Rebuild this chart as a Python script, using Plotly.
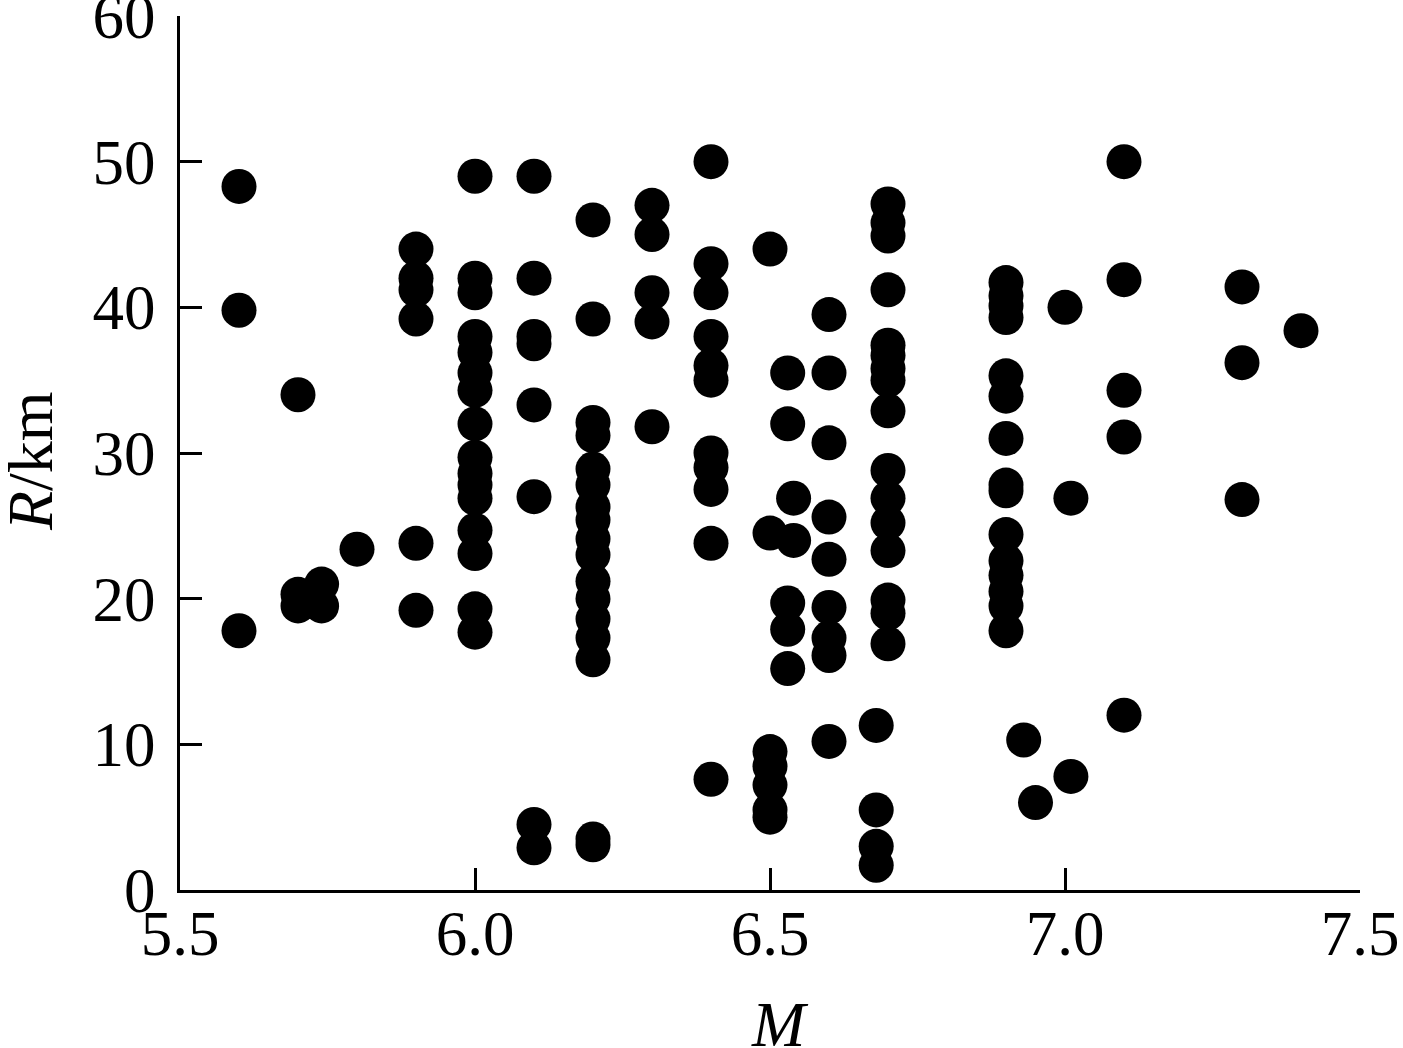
import plotly.graph_objects as go

# Magnitude M (x) for each column of points, and epicentral distance R/km (y)
m_5_6 = [48.3, 39.8, 17.8]
m_5_7 = [34.0, 20.3, 19.5]
m_5_74 = [21.0, 19.5]
m_5_8 = [23.4]
m_5_9 = [44.0, 42.0, 41.2, 39.2, 23.8, 19.2]
m_6_0 = [49.0, 42.0, 41.0, 38.0, 36.9, 35.5, 34.3, 32.0, 29.7, 28.6, 27.8, 26.9, 24.7, 23.1, 19.3, 17.7]
m_6_1 = [49.0, 42.0, 38.0, 37.5, 33.3, 27.0, 4.5, 2.9]
m_6_2 = [46.0, 39.2, 32.1, 31.2, 28.9, 27.8, 26.3, 25.4, 24.1, 23.0, 21.2, 20.0, 18.6, 17.3, 15.8, 3.5, 3.1]
m_6_3 = [47.0, 45.0, 41.0, 39.0, 31.8]
m_6_4 = [50.0, 43.0, 41.0, 38.0, 36.0, 35.0, 30.0, 29.0, 27.5, 23.8, 7.6]
m_6_5 = [44.0, 24.5, 9.5, 8.5, 7.2, 5.5, 5.0]
m_6_53 = [35.5, 32.0, 19.7, 17.9, 15.2]
m_6_54 = [26.9, 24.0]
m_6_6 = [39.5, 35.5, 30.7, 25.6, 22.7, 19.4, 17.3, 16.1, 10.2]
m_6_68 = [11.3, 5.5, 3.0, 1.7]
m_6_7 = [47.1, 45.8, 44.9, 41.2, 37.4, 36.7, 35.8, 35.0, 32.9, 28.8, 26.9, 25.2, 23.3, 19.9, 19.0, 16.9]
m_6_9 = [41.7, 40.8, 40.1, 39.3, 35.3, 33.9, 31.0, 27.8, 27.4, 24.4, 22.6, 21.6, 20.5, 19.5, 17.8]
m_6_93 = [10.3]
m_6_95 = [6.0]
m_7_0 = [40.0]
m_7_01 = [26.9, 7.8]
m_7_1 = [50.0, 41.9, 34.3, 31.1, 12.0]
m_7_3 = [41.4, 36.2, 26.8]
m_7_4 = [38.4]

columns = [
    (5.6, m_5_6), (5.7, m_5_7), (5.74, m_5_74), (5.8, m_5_8), (5.9, m_5_9),
    (6.0, m_6_0), (6.1, m_6_1), (6.2, m_6_2), (6.3, m_6_3), (6.4, m_6_4),
    (6.5, m_6_5), (6.53, m_6_53), (6.54, m_6_54), (6.6, m_6_6), (6.68, m_6_68),
    (6.7, m_6_7), (6.9, m_6_9), (6.93, m_6_93), (6.95, m_6_95), (7.0, m_7_0),
    (7.01, m_7_01), (7.1, m_7_1), (7.3, m_7_3), (7.4, m_7_4),
]

x_vals = []
y_vals = []
for m, rs in columns:
    for r in rs:
        x_vals.append(m)
        y_vals.append(r)

x_ticks = [5.5, 6.0, 6.5, 7.0, 7.5]
x_tick_labels = ["5.5", "6.0", "6.5", "7.0", "7.5"]
y_ticks = [0, 10, 20, 30, 40, 50, 60]
y_tick_labels = ["0", "10", "20", "30", "40", "50", "60"]

FONT = "Liberation Serif, Times New Roman, serif"

fig = go.Figure()
fig.add_trace(go.Scatter(
    x=x_vals, y=y_vals, mode="markers",
    marker=dict(size=35, color="black", line=dict(width=0)),
    cliponaxis=False, showlegend=False,
))

axis_common = dict(
    showgrid=False, zeroline=False, showline=True, linecolor="black", linewidth=3,
    ticks="inside", ticklen=22, tickwidth=3, tickcolor="black",
    tickfont=dict(family=FONT, size=63, color="black"),
    automargin=False, ticklabeloverflow="allow",
)

fig.update_layout(
    width=1403, height=1048,
    margin=dict(l=180, r=43, t=16, b=158),
    paper_bgcolor="white", plot_bgcolor="white",
    font=dict(family=FONT, color="black"),
    xaxis=dict(
        range=[5.5, 7.5], tickvals=x_ticks, ticktext=x_tick_labels,
        ticklabelstandoff=-14,
        **axis_common,
    ),
    yaxis=dict(
        range=[0, 60], tickvals=y_ticks, ticktext=y_tick_labels,
        ticklabelstandoff=9,
        **axis_common,
    ),
    annotations=[
        dict(text="<i>M</i>", xref="paper", yref="paper", x=0.5, y=0,
             xshift=10, yshift=-134, xanchor="center", yanchor="middle",
             showarrow=False, font=dict(family=FONT, size=64, color="black")),
        dict(text="<i>R</i>/km", xref="paper", yref="paper", x=0, y=0.5,
             xshift=-150, yshift=-8, xanchor="center", yanchor="middle",
             textangle=-90, showarrow=False,
             font=dict(family=FONT, size=64, color="black")),
    ],
)

fig.write_html(
    "out.html",
    config={"displayModeBar": False},
    post_script="document.body.style.margin='0';document.body.style.overflow='hidden';",
)
